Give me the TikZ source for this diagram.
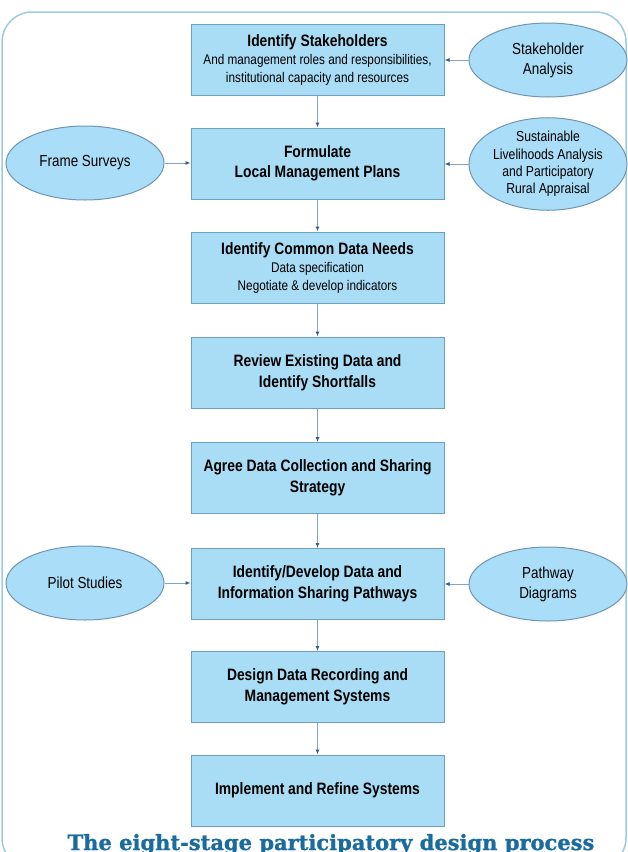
\documentclass[tikz,border=0pt]{standalone}
\usepackage{fontspec}
\setmainfont[FakeStretch=0.84]{Liberation Sans}
\newfontfamily\titlefont[FakeBold=1.2]{DejaVu Serif Bold}
\usetikzlibrary{arrows.meta,shapes.geometric}
\definecolor{boxfill}{HTML}{A9DDF6}
\definecolor{boxline}{HTML}{6E9FC0}
\definecolor{ellfill}{HTML}{AADDF7}
\definecolor{ellline}{HTML}{6E96B4}
\definecolor{frameline}{HTML}{9CCBE4}
\definecolor{arrline}{HTML}{7FA6C2}
\definecolor{arrhead}{HTML}{2F5F86}
\definecolor{titleblue}{HTML}{1B6C9E}
\newcommand{\headfont}{\fontsize{16.5}{18}\selectfont\bfseries}
\tikzset{
  stagebox/.style={draw=boxline, line width=1pt, fill=boxfill, minimum width=253pt, minimum height=71pt, align=center, inner sep=2pt, font=\fontsize{14}{18}\selectfont},
  boldbox/.style={stagebox, font=\fontsize{16.5}{20.5}\selectfont\bfseries},
  sidell/.style={draw=ellline, line width=1pt, fill=ellfill, ellipse, minimum width=158pt, minimum height=74pt, inner sep=0pt, align=center, font=\fontsize{16}{20}\selectfont},
  flow/.style={draw=arrline, line width=1pt, -{Latex[length=5pt,width=4pt,color=arrhead]}},
}
\begin{document}
\begin{tikzpicture}[x=1pt,y=-1pt]
\useasboundingbox (0,0) rectangle (627,852);
\draw[frameline, line width=1.5pt, rounded corners=30pt] (2,12) rectangle (626,868);

\node[stagebox] (s1) at (317.5,59.5) {\headfont Identify Stakeholders\\And management roles and responsibilities,\\institutional capacity and resources};
\node[boldbox] (s2) at (317.5,163.5) {Formulate\\Local Management Plans};
\node[stagebox] (s3) at (317.5,267.5) {\headfont Identify Common Data Needs\\Data specification\\Negotiate \& develop indicators};
\node[boldbox] (s4) at (317.5,372.5) {Review Existing Data and\\Identify Shortfalls};
\node[boldbox] (s5) at (317.5,478) {Agree Data Collection and Sharing\\Strategy};
\node[boldbox] (s6) at (317.5,584) {Identify/Develop Data and\\Information Sharing Pathways};
\node[boldbox] (s7) at (317.5,687) {Design Data Recording and\\Management Systems};
\node[boldbox] (s8) at (317.5,790.5) {Implement and Refine Systems};

\node[sidell] (e1) at (548,60) {Stakeholder\\Analysis};
\node[sidell] (e2) at (85,163) {Frame Surveys};
\node[sidell, minimum height=80pt, font=\fontsize{14.5}{17.3}\selectfont] (e3) at (548,164) {Sustainable\\Livelihoods Analysis\\and Participatory\\Rural Appraisal};
\node[sidell] (e4) at (85,583) {Pilot Studies};
\node[sidell] (e5) at (548,584) {Pathway\\Diagrams};

\draw[flow] (s1) -- (s2);
\draw[flow] (s2) -- (s3);
\draw[flow] (s3) -- (s4);
\draw[flow] (s4) -- (s5);
\draw[flow] (s5) -- (s6);
\draw[flow] (s6) -- (s7);
\draw[flow] (s7) -- (s8);

\draw[flow] (e1) -- (e1 -| s1.east);
\draw[flow] (e2) -- (e2 -| s2.west);
\draw[flow] (e3) -- (e3 -| s2.east);
\draw[flow] (e4) -- (e4 -| s6.west);
\draw[flow] (e5) -- (e5 -| s6.east);

\node[anchor=base, text=titleblue, font=\titlefont\fontsize{21}{24}\selectfont] (title) at (331,850) {The eight-stage participatory design process};
\end{tikzpicture}
\end{document}
